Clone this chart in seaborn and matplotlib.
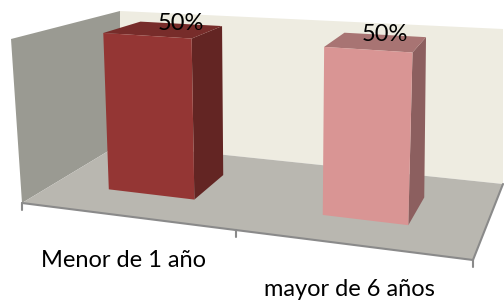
import numpy as np
import matplotlib.pyplot as plt
import seaborn as sns

categories = ["Menor de 1 año", "mayor de 6 años"]
values = [0.5, 0.5]
front_colors = ["#943634", "#d99594"]
side_colors = ["#632523", "#8c5f5f"]
top_colors = ["#772c2a", "#a87473"]

sns.set_style("white")
plt.rcParams["font.family"] = ["Lato", "DejaVu Sans"]

fig = plt.figure(figsize=(5.04, 3.0), dpi=100)

# flat bar chart, only used for its scales (bar geometry comes from here)
ax = fig.add_axes([0, 0, 1, 1])
sns.barplot(x=categories, y=values, hue=categories, palette=front_colors,
            width=0.4, legend=False, ax=ax)
ax.set_xlim(-0.45, 1.55)
ax.set_ylim(0, 0.5)
ax.set_axis_off()

# 3D box corners in pixels: front-left, front-right, back-left, back-right
floor_px = np.array([[22, 203], [473, 260], [120, 144], [503, 184]], float)
ceil_px = np.array([[11, 39], [483, 72], [120, 11], [503, 29]], float)


def bilin(c, u, w):
    return (1 - u) * (1 - w) * c[0] + u * (1 - w) * c[1] + (1 - u) * w * c[2] + u * w * c[3]


def proj(u, v, w):
    b = bilin(floor_px, u, w)
    t = bilin(ceil_px, u, w)
    return b + v * (t - b)


# drawing canvas in pixel units
cv = fig.add_axes([0, 0, 1, 1])
cv.set_xlim(0, 504)
cv.set_ylim(300, 0)
cv.set_axis_off()

# walls and floor
back = [proj(0, 0, 1), proj(1, 0, 1), proj(1, 1, 1), proj(0, 1, 1)]
left = [proj(0, 0, 0), proj(0, 0, 1), proj(0, 1, 1), proj(0, 1, 0)]
floor = [proj(0, 0, 0), proj(1, 0, 0), proj(1, 0, 1), proj(0, 0, 1)]
cv.fill(*zip(*back), color="#eeece1", lw=0)
cv.fill(*zip(*left), color="#9a9a92", lw=0)
cv.fill(*zip(*floor), color="#b9b7b0", lw=0)
edge = [proj(0, 0, 0), proj(1, 0, 0), proj(1, 0, 1)]
cv.plot(*zip(*edge), color="#8a8a8a", lw=1.5)

# tick marks on the category axis
xmin, xmax = ax.get_xlim()
for xt in [xmin, 0.5, xmax]:
    u = ax.transLimits.transform((xt, 0))[0]
    pt = proj(u, 0, 0)
    cv.plot([pt[0], pt[0]], [pt[1], pt[1] + 7], color="#8a8a8a", lw=1.5)

# bars
w0, w1 = 0.34, 0.72
bars = sorted([p for p in ax.patches if p.get_height() > 0], key=lambda p: p.get_x())
for i, p in enumerate(bars):
    x0, x1, h = p.get_x(), p.get_x() + p.get_width(), p.get_height()
    u0, v0 = ax.transLimits.transform((x0, 0))
    u1, v1 = ax.transLimits.transform((x1, h))
    p.set_visible(False)
    side = [proj(u1, v0, w0), proj(u1, v0, w1), proj(u1, v1, w1), proj(u1, v1, w0)]
    top = [proj(u0, v1, w0), proj(u1, v1, w0), proj(u1, v1, w1), proj(u0, v1, w1)]
    front = [proj(u0, v0, w0), proj(u1, v0, w0), proj(u1, v1, w0), proj(u0, v1, w0)]
    cv.fill(*zip(*side), color=side_colors[i], lw=0)
    cv.fill(*zip(*top), color=top_colors[i], lw=0)
    cv.fill(*zip(*front), color=front_colors[i], lw=0)

    uc = (u0 + u1) / 2
    lp = proj(uc, v1, w1)
    cv.text(lp[0], lp[1], f"{h:.0%}", ha="center", va="center", fontsize=17, color="black")
    cp = proj(uc, 0, 0)
    cv.text(cp[0], cp[1] + 45, categories[i], ha="center", va="center", fontsize=17, color="black")

fig.savefig("out.png", dpi=100)
